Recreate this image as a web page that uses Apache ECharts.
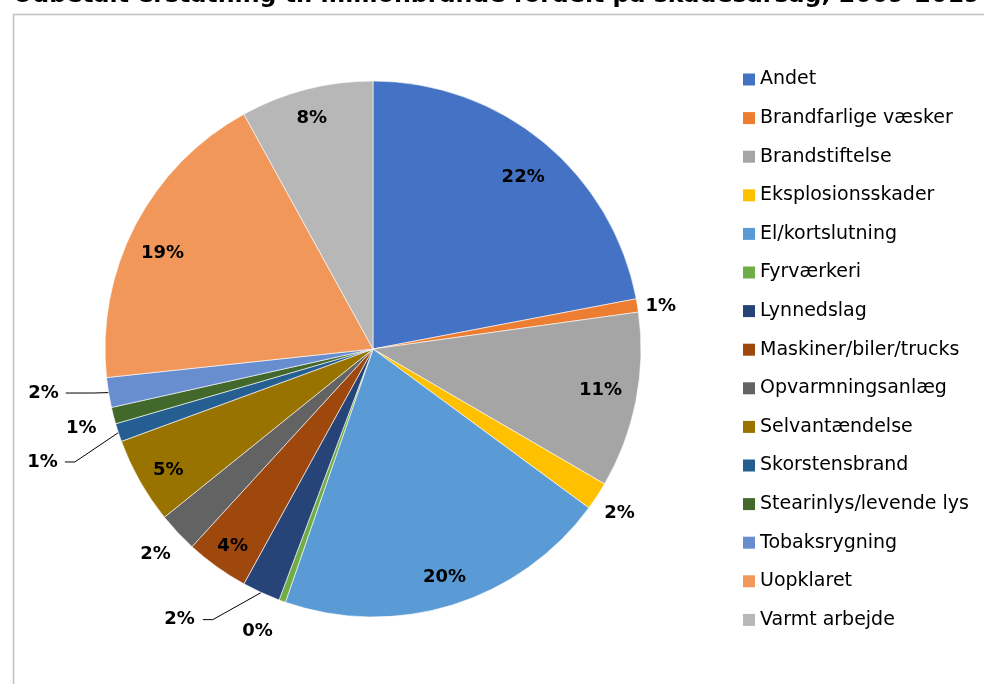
<!DOCTYPE html>
<html>
<head>
<meta charset="utf-8">
<script src="https://cdn.jsdelivr.net/npm/echarts@6/dist/echarts.min.js"></script>
<style>
html,body{margin:0;padding:0;background:#fff;}
#chart{width:984px;height:684px;}
</style>
</head>
<body>
<div id="chart"></div>
<script>
const titleText = 'Udbetalt erstatning til millionbrande fordelt på skadesårsag, 2009-2019';
const categories = ['Andet','Brandfarlige væsker','Brandstiftelse','Eksplosionsskader','El/kortslutning','Fyrværkeri','Lynnedslag','Maskiner/biler/trucks','Opvarmningsanlæg','Selvantændelse','Skorstensbrand','Stearinlys/levende lys','Tobaksrygning','Uopklaret','Varmt arbejde'];
const shares = [22.0, 0.8, 10.6, 1.7, 20.2, 0.4, 2.3, 3.8, 2.4, 5.2, 1.1, 1.0, 1.8, 18.7, 8.0];

// styling (not data)
const colors = ['#4472C4','#ED7D31','#A5A5A5','#FFC000','#5B9BD5','#70AD47','#264478','#9E480E','#636363','#997300','#255E91','#43682B','#698ED0','#F1975A','#B7B7B7'];
const insideLabel = [true,false,true,false,true,false,false,true,false,true,false,false,false,true,true];
// inside label nudges [dx, dy]
const insideNudge = {0: [1, 9], 2: [-2, -4], 4: [2, 5], 7: [-4, 7], 9: [-1, 6], 13: [-3, 13], 14: [-3, -4]};
// outside label placement: [showLine, length, length2, dx, dy, bendToEnd]
const outsideCfg = {
  1:  [false, 4, 0, -1, 2, 0],
  3:  [false, 4, 0, -1, 15, 0],
  5:  [false, 4, 0, -3, 26, 0],
  6:  [true, 32, 45, -3, -2, 10],
  8:  [false, 4, 0, 1, 19, 0],
  10: [true, 30, 25, -2, 20, 10],
  11: [false, 4, 0, -8, 12, 0],
  12: [true, 15, 28, -2, -2, 0]
};

const total = shares.reduce((a, b) => a + b, 0);
const pctText = v => Math.round(v / total * 100) + '%';

const labelFont = {fontFamily: 'DejaVu Sans', fontWeight: 'bold', fontSize: 18, color: '#000'};

const mainData = categories.map((name, i) => {
  const item = {name: name, value: shares[i], itemStyle: {color: colors[i]}};
  if (insideLabel[i]) {
    item.label = {show: false};
    item.labelLine = {show: false};
  } else {
    const c = outsideCfg[i];
    item.label = {show: true};
    item.labelLine = {show: c[0], length: c[1], length2: c[2]};
  }
  return item;
});

const ringData = categories.map((name, i) => ({
  name: name,
  value: shares[i],
  label: {show: insideLabel[i]}
}));

const chart = echarts.init(document.getElementById('chart'), null, {renderer: 'canvas'});
chart.setOption({
  animation: false,
  backgroundColor: '#fff',
  color: colors,
  graphic: [
    {type: 'rect', left: 11, top: 12, shape: {width: 1000, height: 700},
     style: {fill: 'none', stroke: '#c0c0c0', lineWidth: 1.5}, silent: true},
    {type: 'text', x: 13, y: -16, style: {text: titleText, font: 'bold 23.7px "DejaVu Sans"', fill: '#000', verticalAlign: 'top'}, silent: true}
  ],
  legend: {
    orient: 'vertical',
    left: 738,
    top: 65,
    itemWidth: 12,
    itemHeight: 12,
    itemGap: 19.6,
    icon: 'rect',
    itemStyle: {borderWidth: 0},
    data: categories,
    textStyle: {fontFamily: 'DejaVu Sans', fontSize: 19, lineHeight: 19, color: '#000'}
  },
  series: [
    {
      type: 'pie',
      name: 'main',
      center: [373, 349],
      radius: [0, 268],
      startAngle: 90,
      clockwise: true,
      avoidLabelOverlap: false,
      itemStyle: {borderColor: '#fff', borderWidth: 0.6},
      label: Object.assign({position: 'outside', distanceToLabelLine: 5, formatter: p => pctText(p.value)}, labelFont),
      labelLine: {lineStyle: {color: '#000', width: 1}, smooth: false},
      labelLayout: function (params) {
        const c = outsideCfg[params.dataIndex];
        if (!c) return {};
        const res = {dx: c[3], dy: c[4]};
        const pts = params.labelLinePoints;
        if (c[0] && pts && pts.length === 3) {
          const p2 = [pts[2][0], pts[2][1] + c[4]];
          const dir = pts[2][0] < pts[0][0] ? 1 : -1;
          const p1 = c[5] ? [p2[0] + dir * c[5], p2[1]] : [pts[1][0], pts[1][1] + c[4]];
          res.labelLinePoints = [pts[0], p1, p2];
        }
        return res;
      },
      emphasis: {disabled: true},
      data: mainData
    },
    {
      type: 'pie',
      name: 'labels',
      center: [373, 349],
      radius: [194, 268],
      startAngle: 90,
      clockwise: true,
      silent: true,
      avoidLabelOverlap: false,
      itemStyle: {color: 'rgba(0,0,0,0)', borderWidth: 0},
      label: Object.assign({position: 'inside', formatter: p => pctText(p.value)}, labelFont),
      labelLine: {show: false},
      labelLayout: function (params) {
        const n = insideNudge[params.dataIndex];
        return n ? {dx: n[0], dy: n[1]} : {};
      },
      emphasis: {disabled: true},
      data: ringData
    }
  ]
});
</script>
</body>
</html>
